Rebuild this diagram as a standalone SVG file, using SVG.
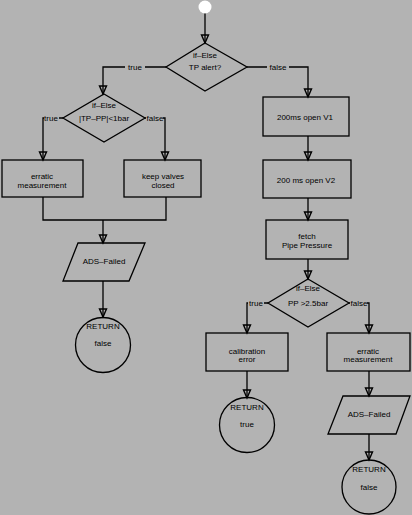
<svg xmlns="http://www.w3.org/2000/svg" width="412" height="515" viewBox="0 0 412 515">
<defs>
<marker id="arr" viewBox="-10 -5 11 10" refX="0" refY="0" markerWidth="11" markerHeight="10" markerUnits="userSpaceOnUse" orient="auto" overflow="visible">
<path d="M-8,-3.5 L-8,3.5 L0,0 Z" fill="none" stroke="#000" stroke-width="1.4"/>
</marker>
<style>
.s{fill:none;stroke:#000;stroke-width:1.3}
.c{fill:none;stroke:#000;stroke-width:1.3;marker-end:url(#arr)}
text{font-family:"Liberation Sans",Arial,sans-serif;font-size:8px;fill:#000;text-anchor:middle;dominant-baseline:central}
.bg{fill:#b3b3b3}
</style>
</defs>
<rect width="412" height="515" fill="#b3b3b3"/>
<g id="connectors">
<path class="c" d="M205,13 V43"/>
<path class="c" d="M166,67 H103 V94"/>
<path class="c" d="M247,67 H308 V97"/>
<path class="c" d="M63,118 H43 V160"/>
<path class="c" d="M145,118 H165 V160"/>
<path class="s" d="M43,197 V220 H166 V197"/>
<path class="c" d="M103,220 V243"/>
<path class="c" d="M103,281 V317"/>
<path class="c" d="M308,136 V160"/>
<path class="c" d="M308,198 V220"/>
<path class="c" d="M308,259 V279"/>
<path class="c" d="M268,303 H247 V333"/>
<path class="c" d="M349,303 H369 V333"/>
<path class="c" d="M247,371 V398"/>
<path class="c" d="M369,371 V396"/>
<path class="c" d="M369,434 V460"/>
<rect class="bg" x="125" y="62" width="20" height="10"/>
<text x="135" y="67">true</text>
<rect class="bg" x="267" y="62" width="22" height="10"/>
<text x="278" y="67">false</text>
<rect class="bg" x="44" y="113" width="15" height="10"/>
<text x="51" y="118">true</text>
<rect class="bg" x="146" y="113" width="17" height="10"/>
<text x="155" y="118">false</text>
<rect class="bg" x="248" y="298" width="16" height="10"/>
<text x="256" y="303">true</text>
<rect class="bg" x="350" y="298" width="17" height="10"/>
<text x="359" y="303">false</text>
</g>
<g id="start"><circle cx="205" cy="7" r="6.5" fill="#fff"/></g>
<g id="d1"><polygon class="s" points="205,43 247,67 205,91 166,67"/><text x="205" y="55">if–Else</text><text x="205" y="67">TP alert?</text></g>
<g id="d2"><polygon class="s" points="104,94 145,118 104,142 63,118"/><text x="104" y="105">if–Else</text><text x="104" y="118">|TP–PP|&lt;1bar</text></g>
<g id="b1"><rect class="s" x="2" y="160" width="81" height="37"/><text x="42" y="176">erratic</text><text x="42" y="185">measurement</text></g>
<g id="b2"><rect class="s" x="124" y="160" width="77" height="37"/><text x="163" y="176">keep valves</text><text x="163" y="185">closed</text></g>
<g id="p1"><polygon class="s" points="78,243 145,243 129,281 63,281"/><text x="104" y="261">ADS–Failed</text></g>
<g id="r1"><circle class="s" cx="103" cy="345" r="27.5"/><text x="103" y="326">RETURN</text><text x="103" y="343">false</text></g>
<g id="b3"><rect class="s" x="263" y="97" width="86" height="39"/><text x="305" y="117">200ms open V1</text></g>
<g id="b4"><rect class="s" x="263" y="160" width="88" height="38"/><text x="306" y="180">200 ms open V2</text></g>
<g id="b5"><rect class="s" x="266" y="220" width="82" height="39"/><text x="307" y="236">fetch</text><text x="307" y="245">Pipe Pressure</text></g>
<g id="d3"><polygon class="s" points="308,279 349,303 308,327 268,303"/><text x="308" y="288">if–Else</text><text x="308" y="303">PP &gt;2.5bar</text></g>
<g id="b6"><rect class="s" x="206" y="333" width="82" height="38"/><text x="247" y="351">calibration</text><text x="247" y="359">error</text></g>
<g id="b7"><rect class="s" x="327" y="333" width="83" height="38"/><text x="368" y="351">erratic</text><text x="368" y="359">measurement</text></g>
<g id="r2"><circle class="s" cx="247" cy="425" r="27.5"/><text x="247" y="407">RETURN</text><text x="247" y="424">true</text></g>
<g id="p2"><polygon class="s" points="343,396 410,396 396,434 328,434"/><text x="369" y="414">ADS–Failed</text></g>
<g id="r3"><circle class="s" cx="369" cy="487" r="27"/><text x="369" y="469">RETURN</text><text x="369" y="487">false</text></g>
</svg>
